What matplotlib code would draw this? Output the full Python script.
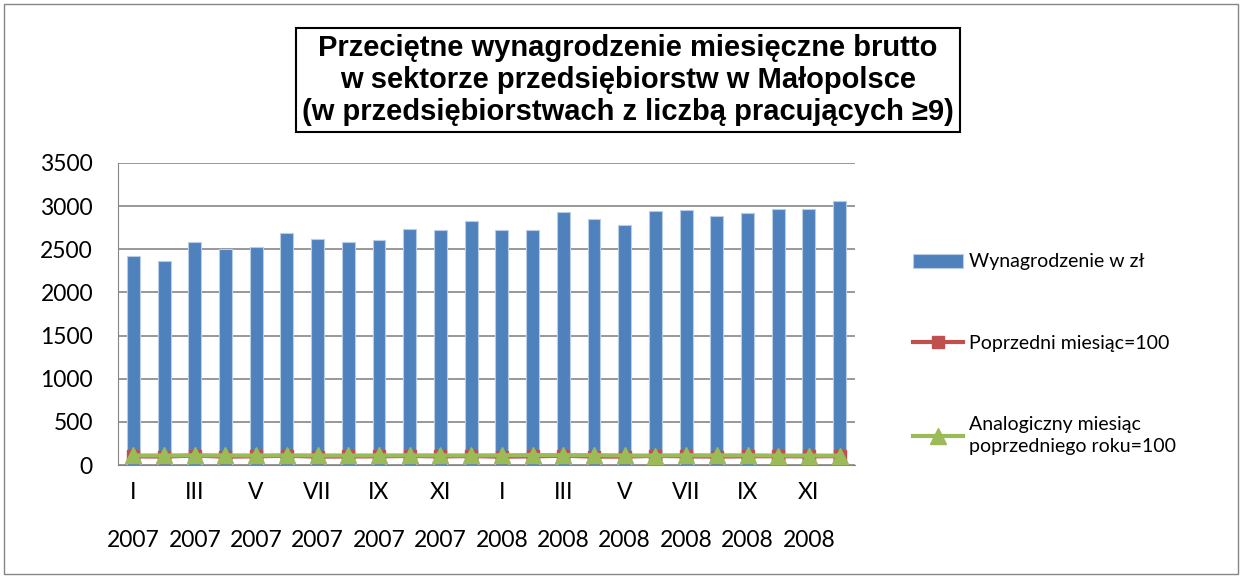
import matplotlib.pyplot as plt
import numpy as np
from matplotlib.patches import Rectangle

# --- Dane ---
months = ["I", "II", "III", "IV", "V", "VI", "VII", "VIII", "IX", "X", "XI", "XII"] * 2
years = ["2007"] * 12 + ["2008"] * 12
wages = [2425, 2368, 2588, 2503, 2526, 2692, 2619, 2588, 2604, 2735, 2720, 2824,
         2720, 2720, 2928, 2855, 2781, 2944, 2958, 2882, 2917, 2970, 2970, 3063]
prev_month = [100.0, 97.6, 109.3, 96.7, 100.9, 106.6, 97.3, 98.8, 100.6, 105.0, 99.5, 103.8,
              96.3, 100.0, 107.6, 97.5, 97.4, 105.9, 100.5, 97.4, 101.2, 101.8, 100.0, 103.1]
prev_year = [110.2, 110.5, 111.8, 110.9, 110.3, 111.4, 110.7, 110.1, 110.6, 111.2, 110.9, 110.4,
             112.2, 114.9, 113.1, 114.1, 110.1, 109.4, 112.9, 111.4, 112.0, 108.6, 109.2, 108.5]
legend_labels = ["Wynagrodzenie w zł", "Poprzedni miesiąc=100",
                 "Analogiczny miesiąc\npoprzedniego roku=100"]
title = ("Przeciętne wynagrodzenie miesięczne brutto\n"
         "w sektorze przedsiębiorstw w Małopolsce\n"
         "(w przedsiębiorstwach z liczbą pracujących ≥9)")

plt.rcParams['font.family'] = ['Lato', 'DejaVu Sans']

fig = plt.figure(figsize=(12.43, 5.78), dpi=100)
ax = fig.add_axes([118 / 1243, 1 - 465 / 578, 737 / 1243, 302 / 578])

x = np.arange(len(wages))
bars = ax.bar(x, wages, width=0.42, color='#4f81bd', edgecolor='#b9cde5', linewidth=0.8,
              label=legend_labels[0], zorder=2)
l1, = ax.plot(x, prev_month, color='#c0504d', lw=3, marker='s', ms=8,
              label=legend_labels[1], zorder=3)
l2, = ax.plot(x, prev_year, color='#9bbb59', lw=3, marker='^', ms=11,
              label=legend_labels[2], zorder=4)

ax.set_xlim(-0.5, len(wages) - 0.5)
ax.set_ylim(0, 3500)
ax.set_yticks(range(0, 3501, 500))
ax.set_xticks(x[::2])
ax.set_xticklabels([f"{m}\n{y}" for m, y in zip(months[::2], years[::2])],
                   linespacing=2.6)
ax.tick_params(axis='both', labelsize=16.5, length=0)
ax.tick_params(axis='y', pad=18)
ax.tick_params(axis='x', pad=12)
ax.yaxis.grid(True, color='#868686', lw=1.2)
ax.set_axisbelow(True)
for s in ['top', 'right']:
    ax.spines[s].set_visible(False)
ax.spines['left'].set_color('#868686')
ax.spines['bottom'].set_color('#868686')

leg = fig.legend([bars, l1, l2], legend_labels, loc='upper left',
                 bbox_to_anchor=(895 / 1243, 1 - 236 / 578),
                 frameon=False, fontsize=14, handlelength=2.6, labelspacing=3.3,
                 handletextpad=0.3)
for t in leg.get_texts():
    t.set_linespacing(1.4)

fig.text(628 / 1243, 1 - 80 / 578, title, ha='center', va='center', fontsize=21,
         fontweight='bold', family=['Liberation Sans', 'DejaVu Sans'],
         linespacing=1.2,
         bbox=dict(boxstyle='square,pad=0.2', facecolor='white', edgecolor='black', lw=1.5))

fig.patches.append(Rectangle((4 / 1243, 4 / 578), 1 - 9 / 1243, 1 - 8 / 578,
                             transform=fig.transFigure, fill=False,
                             edgecolor='#868686', lw=1))

fig.savefig("out.png", dpi=100)
